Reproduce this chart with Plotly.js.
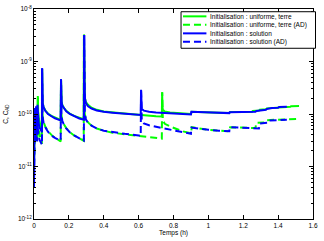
<!DOCTYPE html>
<html><head><meta charset="utf-8">
<script src="https://cdn.plot.ly/plotly-3.0.1.min.js"></script>
<style>html,body{margin:0;padding:0;background:#fff;}#chart{width:324px;height:241px;}</style>
</head><body><div id="chart"></div>
<script>
// [temps (h), C] — Initialisation : solution
const sol = [[0,4e-12],[0.002,3e-11],[0.004,1.3e-10],[0.006,6e-11],[0.008,1.1e-10],[0.010,5e-11],[0.012,1.4e-10],[0.014,7e-11],[0.017,4.5e-11],[0.020,1.5e-10],[0.023,9e-11],[0.027,6.5e-11],[0.032,5.5e-11],[0.038,5e-11],[0.044,4.6e-11],[0.046,4.5e-11],[0.0465,7.4e-10],[0.048,2.2e-10],[0.050,1.6e-10],[0.055,1.35e-10],[0.065,1.15e-10],[0.080,1e-10],[0.100,9e-11],[0.120,8.3e-11],[0.140,7.8e-11],[0.153,7.5e-11],[0.155,4.6e-10],[0.1565,2.2e-10],[0.158,1.7e-10],[0.162,1.45e-10],[0.170,1.3e-10],[0.185,1.13e-10],[0.205,1e-10],[0.230,9e-11],[0.260,8.2e-11],[0.286,7.8e-11],[0.288,3.2e-9],[0.2895,4e-10],[0.292,2e-10],[0.298,1.6e-10],[0.310,1.4e-10],[0.330,1.27e-10],[0.360,1.17e-10],[0.400,1.1e-10],[0.450,1.06e-10],[0.520,1.02e-10],[0.600,9.7e-11],[0.612,9.6e-11],[0.614,2.9e-10],[0.6155,1.5e-10],[0.618,1.25e-10],[0.630,1.16e-10],[0.660,1.1e-10],[0.700,1.07e-10],[0.800,1.02e-10],[0.900,9.8e-11],[0.902,1.1e-10],[0.950,1.08e-10],[1.000,1.07e-10],[1.060,1.06e-10],[1.120,1.04e-10],[1.122,1.08e-10],[1.200,1.08e-10],[1.270,1.1e-10],[1.275,1.14e-10],[1.300,1.15e-10],[1.305,1.19e-10],[1.330,1.2e-10],[1.335,1.25e-10],[1.360,1.26e-10],[1.365,1.3e-10],[1.400,1.32e-10],[1.405,1.36e-10],[1.450,1.38e-10]];
// Initialisation : solution (AD)
const solAD = [[0,4e-12],[0.002,2.5e-11],[0.004,7e-11],[0.006,3.5e-11],[0.008,6e-11],[0.010,3e-11],[0.012,7e-11],[0.015,4e-11],[0.018,3e-11],[0.020,6e-11],[0.023,4.5e-11],[0.027,3.8e-11],[0.032,3.2e-11],[0.038,2.9e-11],[0.044,2.7e-11],[0.046,2.6e-11],[0.0465,7.4e-10],[0.048,1.2e-10],[0.050,8.5e-11],[0.055,6.8e-11],[0.065,5.6e-11],[0.080,4.6e-11],[0.100,3.9e-11],[0.120,3.5e-11],[0.140,3.2e-11],[0.153,3.1e-11],[0.155,4.6e-10],[0.1565,1.3e-10],[0.158,9e-11],[0.162,7.5e-11],[0.170,6.4e-11],[0.185,5.3e-11],[0.205,4.5e-11],[0.230,3.9e-11],[0.260,3.4e-11],[0.286,3.1e-11],[0.288,3.2e-9],[0.2895,2e-10],[0.292,1e-10],[0.298,7.8e-11],[0.310,6.8e-11],[0.330,6e-11],[0.360,5.3e-11],[0.400,4.8e-11],[0.450,4.5e-11],[0.520,4.2e-11],[0.600,3.9e-11],[0.612,3.8e-11],[0.614,2.9e-10],[0.6155,1e-10],[0.618,7.5e-11],[0.630,6.6e-11],[0.660,6.1e-11],[0.700,5.7e-11],[0.780,5.1e-11],[0.850,4.5e-11],[0.900,4.2e-11],[0.902,5.5e-11],[0.950,5.2e-11],[1.000,5e-11],[1.060,4.8e-11],[1.120,4.7e-11],[1.122,5.6e-11],[1.200,5.5e-11],[1.290,5.3e-11],[1.295,6.6e-11],[1.340,6.8e-11],[1.345,7.5e-11],[1.400,7.7e-11],[1.450,7.8e-11]];
// Initialisation : uniforme, terre
const uni = [[0,1e-11],[0.002,4e-11],[0.004,1.1e-10],[0.007,6e-11],[0.010,1.2e-10],[0.013,6e-11],[0.016,5e-11],[0.020,5.2e-11],[0.022,2.2e-10],[0.0225,1.4e-10],[0.024,1.1e-10],[0.028,8e-11],[0.034,6.2e-11],[0.040,5.3e-11],[0.045,4.9e-11],[0.0465,7.2e-10],[0.048,2.2e-10],[0.050,1.6e-10],[0.055,1.37e-10],[0.065,1.17e-10],[0.080,1.02e-10],[0.100,9.2e-11],[0.120,8.5e-11],[0.140,8e-11],[0.153,7.7e-11],[0.155,4.5e-10],[0.1565,2.2e-10],[0.158,1.75e-10],[0.162,1.5e-10],[0.170,1.33e-10],[0.185,1.15e-10],[0.205,1.02e-10],[0.230,9.2e-11],[0.260,8.4e-11],[0.285,8e-11],[0.2865,3.25e-9],[0.288,4e-10],[0.291,2.1e-10],[0.297,1.7e-10],[0.310,1.5e-10],[0.330,1.32e-10],[0.360,1.2e-10],[0.400,1.12e-10],[0.450,1.07e-10],[0.520,1.02e-10],[0.600,9.7e-11],[0.650,9.3e-11],[0.700,9.1e-11],[0.733,9e-11],[0.735,2.6e-10],[0.7365,1.4e-10],[0.739,1.2e-10],[0.750,1.12e-10],[0.780,1.07e-10],[0.820,1.04e-10],[0.900,1e-10],[0.905,1.1e-10],[0.950,1.08e-10],[1.000,1.07e-10],[1.060,1.06e-10],[1.120,1.05e-10],[1.125,1.09e-10],[1.200,1.09e-10],[1.250,1.1e-10],[1.255,1.14e-10],[1.290,1.16e-10],[1.295,1.21e-10],[1.330,1.23e-10],[1.335,1.28e-10],[1.370,1.3e-10],[1.375,1.33e-10],[1.410,1.34e-10],[1.415,1.37e-10],[1.470,1.38e-10],[1.475,1.41e-10],[1.520,1.42e-10]];
// Initialisation : uniforme, terre (AD)
const uniAD = [[0,1e-11],[0.002,3e-11],[0.004,6e-11],[0.007,3.5e-11],[0.010,6.5e-11],[0.013,3.5e-11],[0.016,3e-11],[0.020,3.2e-11],[0.022,2.2e-10],[0.0225,9e-11],[0.024,6.5e-11],[0.028,4.8e-11],[0.034,3.6e-11],[0.040,3e-11],[0.045,2.7e-11],[0.0465,7.2e-10],[0.048,1.2e-10],[0.050,8.7e-11],[0.055,7e-11],[0.065,5.7e-11],[0.080,4.7e-11],[0.100,4e-11],[0.120,3.5e-11],[0.140,3.2e-11],[0.153,3e-11],[0.155,4.5e-10],[0.1565,1.3e-10],[0.158,9.2e-11],[0.162,7.6e-11],[0.170,6.5e-11],[0.185,5.4e-11],[0.205,4.5e-11],[0.230,3.9e-11],[0.260,3.4e-11],[0.285,3.1e-11],[0.2865,3.25e-9],[0.288,2e-10],[0.291,1e-10],[0.297,8e-11],[0.310,6.9e-11],[0.330,6e-11],[0.360,5.3e-11],[0.400,4.8e-11],[0.450,4.4e-11],[0.520,4.1e-11],[0.600,3.8e-11],[0.650,3.6e-11],[0.700,3.5e-11],[0.733,3.4e-11],[0.735,2.6e-10],[0.7365,1e-10],[0.739,7.5e-11],[0.750,6.5e-11],[0.780,5.8e-11],[0.850,4.7e-11],[0.900,4.3e-11],[0.905,5.6e-11],[0.950,5.3e-11],[1.000,5e-11],[1.060,4.8e-11],[1.120,4.7e-11],[1.125,5.6e-11],[1.200,5.5e-11],[1.270,5.4e-11],[1.275,6.8e-11],[1.320,6.9e-11],[1.325,7.6e-11],[1.400,7.8e-11],[1.405,8e-11],[1.520,8.1e-11]];

const seriesNames = ['Initialisation : uniforme, terre','Initialisation : uniforme, terre (AD)','Initialisation : solution','Initialisation : solution (AD)'];
const xTickVals = [0,0.2,0.4,0.6,0.8,1,1.2,1.4,1.6];
const xTickText = ['0','0.2','0.4','0.6','0.8','1','1.2','1.4','1.6'];
const yTickVals = [1e-12,1e-11,1e-10,1e-9,1e-8];
const yTickText = ['10<sup>-12</sup>','10<sup>-11</sup>','10<sup>-10</sup>','10<sup>-9</sup>','10<sup>-8</sup>'];

const GREEN = 'rgb(0,255,0)', BLUE = 'rgb(0,0,255)';
const DASH = '7px,4px';
const styles = [
  {color:GREEN, dash:'solid'},
  {color:GREEN, dash:DASH},
  {color:BLUE, dash:'solid'},
  {color:BLUE, dash:DASH}
];
const datasets = [uni, uniAD, sol, solAD];

const traces = datasets.map((d,i)=>({
  type:'scatter', mode:'lines', name:seriesNames[i],
  x:d.map(p=>p[0]), y:d.map(p=>p[1]),
  line:{color:styles[i].color, width:2, dash:styles[i].dash},
  showlegend:false, hoverinfo:'skip'
}));

const minorVals = [];
for (let e=-12; e<-8; e++) for (let m=2; m<10; m++) minorVals.push(m*Math.pow(10,e));

// manual legend (MATLAB-like compact box)
const L = {x0:0.527, x1:1.009, y0:0.813, y1:0.987, lx0:0.534, lx1:0.618, tx:0.624, rows:[0.965,0.925,0.884,0.844]};
const shapes = [{type:'rect', xref:'paper', yref:'paper', x0:L.x0, x1:L.x1, y0:L.y0, y1:L.y1, line:{color:'#000', width:1}, fillcolor:'#fff', layer:'above'}];
const annotations = [];
seriesNames.forEach((n,i)=>{
  shapes.push({type:'line', xref:'paper', yref:'paper', x0:L.lx0, x1:L.lx1, y0:L.rows[i], y1:L.rows[i], line:{color:styles[i].color, width:2, dash:styles[i].dash}, layer:'above'});
  annotations.push({xref:'paper', yref:'paper', x:L.tx, y:L.rows[i], xanchor:'left', yanchor:'middle', text:n, showarrow:false, font:{size:6.5, color:'#000'}});
});

const axisCommon = {showline:true, linecolor:'#000', linewidth:1, mirror:'ticks', ticks:'inside', ticklen:4, tickcolor:'#000', tickwidth:1, showgrid:false, zeroline:false, tickfont:{size:6.5, color:'#000'}};

const layout = {
  width:324, height:241,
  margin:{l:34, r:11, t:9, b:22, pad:0},
  paper_bgcolor:'#fff', plot_bgcolor:'#fff',
  font:{family:'Liberation Sans, Arial, sans-serif', size:6.5, color:'#000'},
  xaxis:Object.assign({}, axisCommon, {range:[0,1.6], tickmode:'array', tickvals:xTickVals, ticktext:xTickText,
    title:{text:'Temps (h)', font:{size:6.5}, standoff:2}}),
  yaxis:Object.assign({}, axisCommon, {type:'log', range:[-12,-8], tickmode:'array', tickvals:yTickVals, ticktext:yTickText,
    minor:{tickmode:'array', tickvals:minorVals, ticks:'inside', ticklen:2, tickcolor:'#000', tickwidth:1, showgrid:false},
    title:{text:'C, C<sub>AD</sub>', font:{size:6.5}, standoff:8}}),
  shapes:shapes, annotations:annotations, showlegend:false
};

Plotly.newPlot('chart', traces, layout, {staticPlot:true, displayModeBar:false});
</script>
</body></html>
